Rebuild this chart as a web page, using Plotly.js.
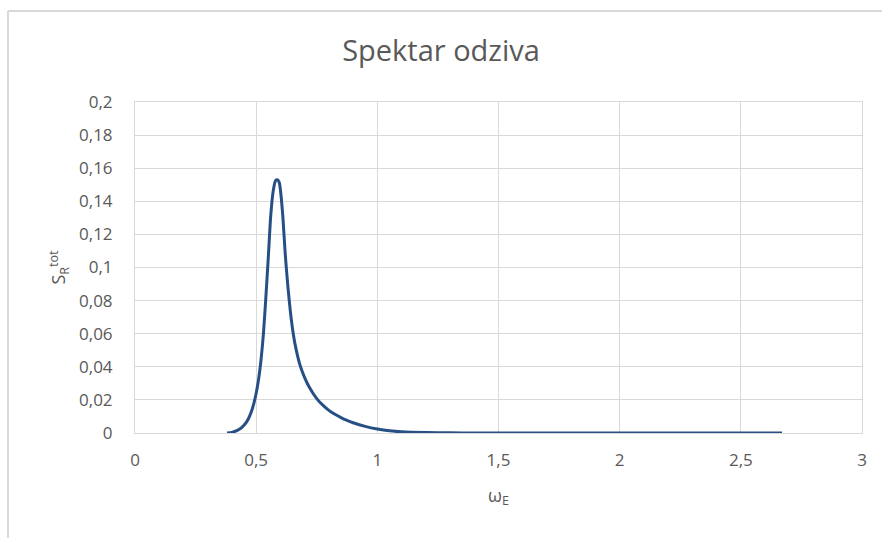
<!DOCTYPE html>
<html>
<head>
<meta charset="utf-8">
<script src="https://cdn.plot.ly/plotly-3.0.1.min.js"></script>
<style>html,body{margin:0;padding:0;background:#fff;}#chart{width:882px;height:538px;}</style>
</head>
<body>
<div id="chart"></div>
<script>
var omegaE = [0.38, 0.40, 0.42, 0.44, 0.46, 0.47, 0.48, 0.49, 0.50, 0.51, 0.52, 0.53, 0.54, 0.55, 0.56, 0.57, 0.58, 0.587, 0.595, 0.60, 0.61, 0.62, 0.63, 0.64, 0.65, 0.66, 0.68, 0.70, 0.72, 0.75, 0.775, 0.80, 0.825, 0.85, 0.875, 0.90, 0.95, 1.00, 1.05, 1.10, 1.20, 1.30, 1.40, 1.50, 1.70, 2.00, 2.30, 2.67];
var SRtot  = [0.0000, 0.0004, 0.0014, 0.0033, 0.0066, 0.0092, 0.0128, 0.0176, 0.0240, 0.0325, 0.0440, 0.060, 0.082, 0.106, 0.131, 0.146, 0.1525, 0.153, 0.1515, 0.147, 0.131, 0.108, 0.090, 0.075, 0.063, 0.054, 0.0415, 0.0335, 0.0275, 0.0208, 0.0168, 0.0137, 0.0113, 0.0093, 0.0076, 0.0062, 0.0040, 0.0024, 0.0013, 0.0007, 0.00025, 0.0001, 0.00005, 0.00003, 0.00001, 0, 0, 0];

var xTickVals = [0, 0.5, 1, 1.5, 2, 2.5, 3];
var xTickText = ["0", "0,5", "1", "1,5", "2", "2,5", "3"];
var yTickVals = [0, 0.02, 0.04, 0.06, 0.08, 0.1, 0.12, 0.14, 0.16, 0.18, 0.2];
var yTickText = ["0", "0,02", "0,04", "0,06", "0,08", "0,1", "0,12", "0,14", "0,16", "0,18", "0,2"];

var font = "'Open Sans', 'Noto Sans', sans-serif";
var grey = "#595959";
var gridc = "#d9d9d9";

var trace = {
  x: omegaE, y: SRtot, type: 'scatter', mode: 'lines',
  line: {color: '#264f86', width: 3, shape: 'spline', smoothing: 0.6},
  hoverinfo: 'x+y'
};

var layout = {
  width: 882, height: 538,
  margin: {l: 135, r: 20, t: 102, b: 105},
  paper_bgcolor: '#ffffff', plot_bgcolor: '#ffffff',
  separators: ',.',
  showlegend: false,
  title: {text: 'Spektar odziva', font: {family: font, size: 29, color: grey}, x: 0.5, xanchor: 'center', y: 0.905, yanchor: 'middle'},
  xaxis: {
    range: [0, 3], tickmode: 'array', tickvals: xTickVals, ticktext: xTickText,
    showgrid: true, gridcolor: gridc, gridwidth: 1, zeroline: false,
    showline: true, linecolor: gridc, linewidth: 1, mirror: true,
    ticks: '', ticklabelstandoff: 12,
    tickfont: {family: font, size: 17, color: grey},
    title: {text: 'ω<sub>E</sub>', font: {family: font, size: 18, color: grey}, standoff: 18}
  },
  yaxis: {
    range: [0, 0.2], tickmode: 'array', tickvals: yTickVals, ticktext: yTickText,
    showgrid: true, gridcolor: gridc, gridwidth: 1, zeroline: false,
    showline: true, linecolor: gridc, linewidth: 1, mirror: true,
    ticks: '', ticklabelstandoff: 18,
    tickfont: {family: font, size: 17, color: grey},
    title: {text: 'S<sub>R</sub><sup>tot</sup>', font: {family: font, size: 18, color: grey}, standoff: 8}
  },
  shapes: [
    {type: 'line', xref: 'paper', yref: 'paper', x0: -0.1747, x1: -0.1747, y0: 1.275, y1: -0.32, line: {color: gridc, width: 2}},
    {type: 'line', xref: 'paper', yref: 'paper', x0: -0.1747, x1: 1.03, y0: 1.275, y1: 1.275, line: {color: gridc, width: 2}}
  ]
};

Plotly.newPlot('chart', [trace], layout, {displayModeBar: false, staticPlot: true});
</script>
</body>
</html>
